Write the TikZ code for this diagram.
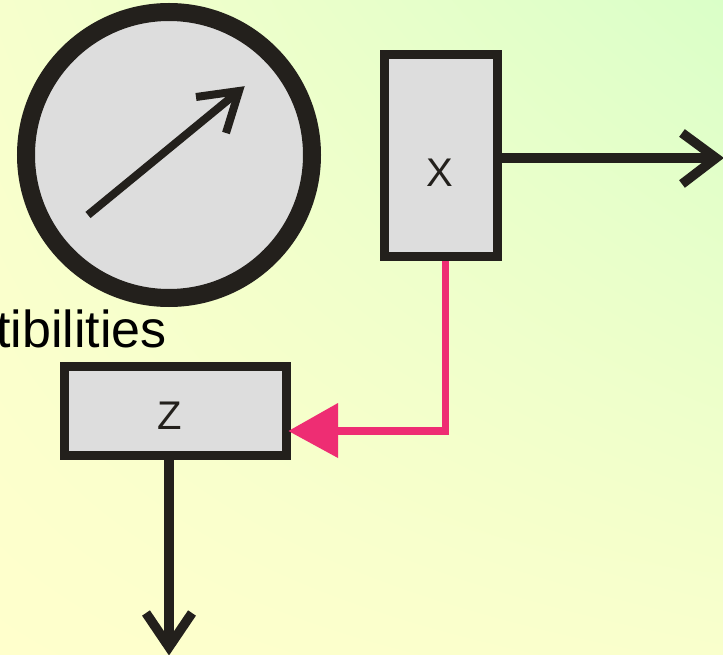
\documentclass[tikz,border=0pt]{standalone}
\usepackage{fontspec}
\setmainfont{Liberation Sans}
\usetikzlibrary{shadings}
\definecolor{bgyellow}{RGB}{255,255,204}
\definecolor{bggreen}{RGB}{218,255,200}
\definecolor{bgul}{RGB}{246,255,204}
\definecolor{bglr}{RGB}{249,255,204}
\definecolor{ink}{RGB}{35,32,28}
\definecolor{boxfill}{RGB}{221,221,221}
\definecolor{pink}{RGB}{238,45,115}
\tikzset{
  blockbox/.style={draw=ink, fill=boxfill, line width=9pt, line join=miter},
  blocklabel/.style={text=ink, font=\fontsize{40}{44}\selectfont},
  flowline/.style={draw=ink, line width=9.5pt},
  openhead/.style={draw=ink, line width=9.5pt, line join=miter, miter limit=10},
  pinkline/.style={draw=pink, line width=7.5pt},
}
\begin{document}
\begin{tikzpicture}[x=1pt,y=-1pt]
\useasboundingbox (0,0) rectangle (723,655);
\shade[upper left=bgul, upper right=bggreen, lower left=bgyellow, lower right=bglr] (0,0) rectangle (723,655);
% gauge
\node[circle, draw=ink, fill=boxfill, line width=18pt, minimum size=286pt, inner sep=0pt] (gauge) at (169,155) {};
\coordinate (gtail) at (88,215);
\coordinate (gtip) at (239,91);
\draw[draw=ink, line width=8pt] (gtail) -- (gtip);
\draw[draw=ink, line width=8pt, line join=miter, miter limit=10] (196,97) -- (gtip) -- (226,133);
% boxes
\node[blockbox, minimum width=113pt, minimum height=202pt, inner sep=0pt] (X) at (440.5,156) {};
\node[blocklabel] at (440,173) {X};
\node[blockbox, minimum width=222pt, minimum height=89pt, inner sep=0pt] (Z) at (175,410.5) {};
\node[blocklabel] at (170,416) {Z};
% text
\node[anchor=base east, inner sep=0pt, font=\fontsize{52}{60}\selectfont] (txt) at (167,347) {tibilities};
% X output arrow
\coordinate (xout) at (716,158);
\draw[flowline] (X.east |- 0,158) -- (xout);
\draw[openhead] (682,133) -- (xout) -- (682,184);
% Z output arrow
\coordinate (zout) at (169,647);
\draw[flowline] (Z.south -| 169,0) -- (zout);
\draw[openhead] (146,613) -- (zout) -- (192,613);
% pink connector
\coordinate (pc) at (445.5,431);
\draw[pinkline] (X.south -| 445.5,0) -- (pc) -- (338,431);
\fill[pink] (Z.east |- 0,431) ++(-2,0) -- (338,403) -- (338,458) -- cycle;
\end{tikzpicture}
\end{document}
